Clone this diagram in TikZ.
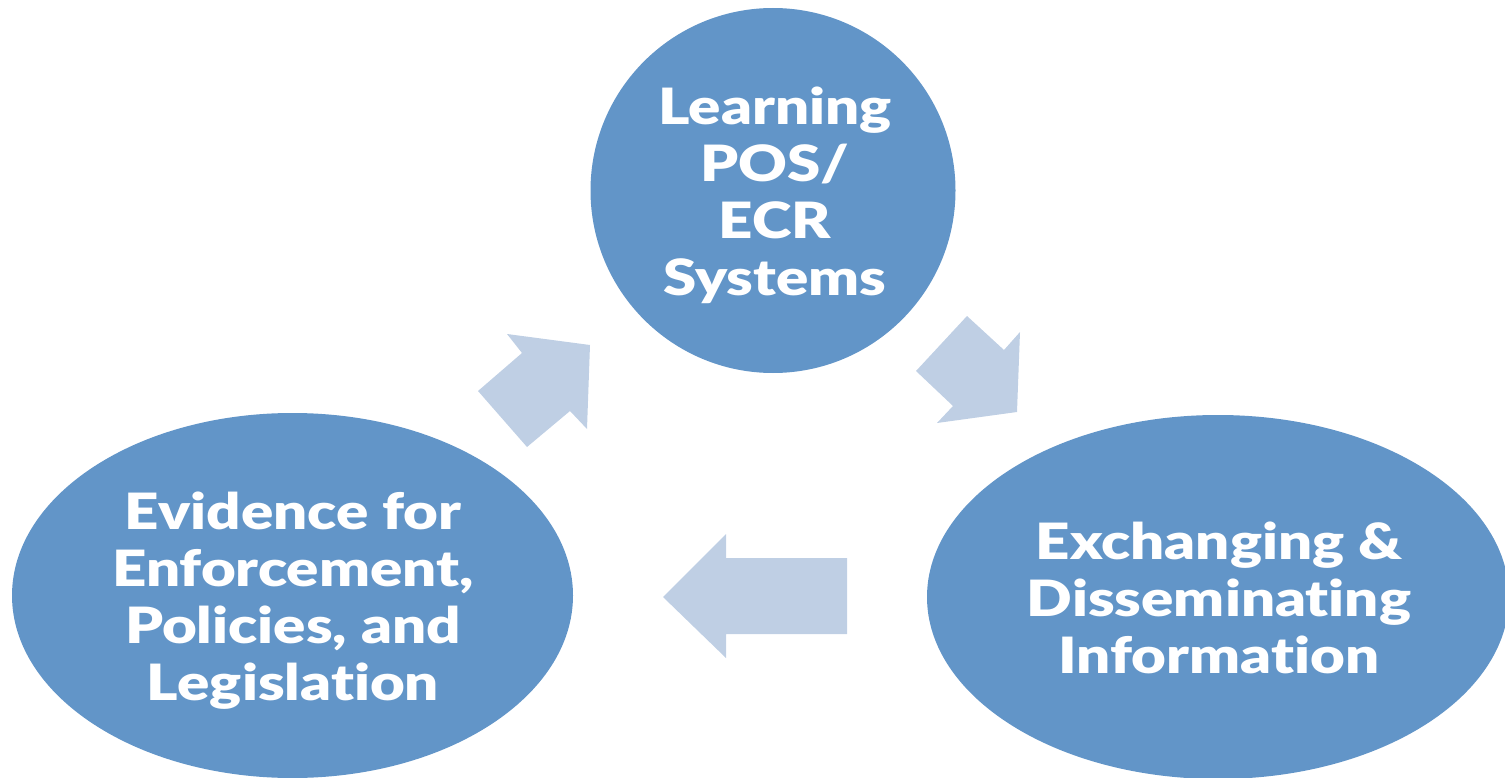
\documentclass[tikz,border=0pt]{standalone}
\usepackage{fontspec}
\setmainfont{Lato Black}[FakeStretch=1.2, Ligatures={NoCommon}]
\definecolor{dblue}{HTML}{6295C8}
\definecolor{lblue}{HTML}{BFCFE4}
\tikzset{
  blob/.style={fill=dblue, draw=none},
  arr/.style={fill=lblue, draw=none},
  lbl/.style={text=white, align=center, font=\fontsize{50}{57}\selectfont}
}
\begin{document}
\begin{tikzpicture}[x=1pt,y=-1pt]
\useasboundingbox (0,0) rectangle (1505,778);
\clip (0,0) rectangle (1505,778);
\fill[blob] (773,190.5) circle [radius=182.5];
\fill[blob] (292.5,595.5) ellipse [x radius=280.5, y radius=182.5];
\fill[blob] (1218,597) ellipse [x radius=291, y radius=182];
\fill[arr] (478,391) -- (522,353) -- (507,334) -- (590,345) -- (587,429) -- (570,411) -- (527,447) -- cycle;
\fill[arr] (967,316) -- (1004,350) -- (1020,332) -- (1017,412) -- (937,423) -- (953,406) -- (916,371) -- cycle;
\fill[arr] (663,597) -- (726,534) -- (726,558) -- (847,558) -- (847,634) -- (726,634) -- (726,658) -- cycle;
\node[lbl] (top) at (775,195) {Learning\\POS/\\ECR\\Systems};
\node[lbl] (left) at (293,601) {Evidence for\\Enforcement,\\Policies, and\\Legislation};
\node[lbl] (right) at (1219,598) {Exchanging \&\\Disseminating\\Information};
\end{tikzpicture}
\end{document}
